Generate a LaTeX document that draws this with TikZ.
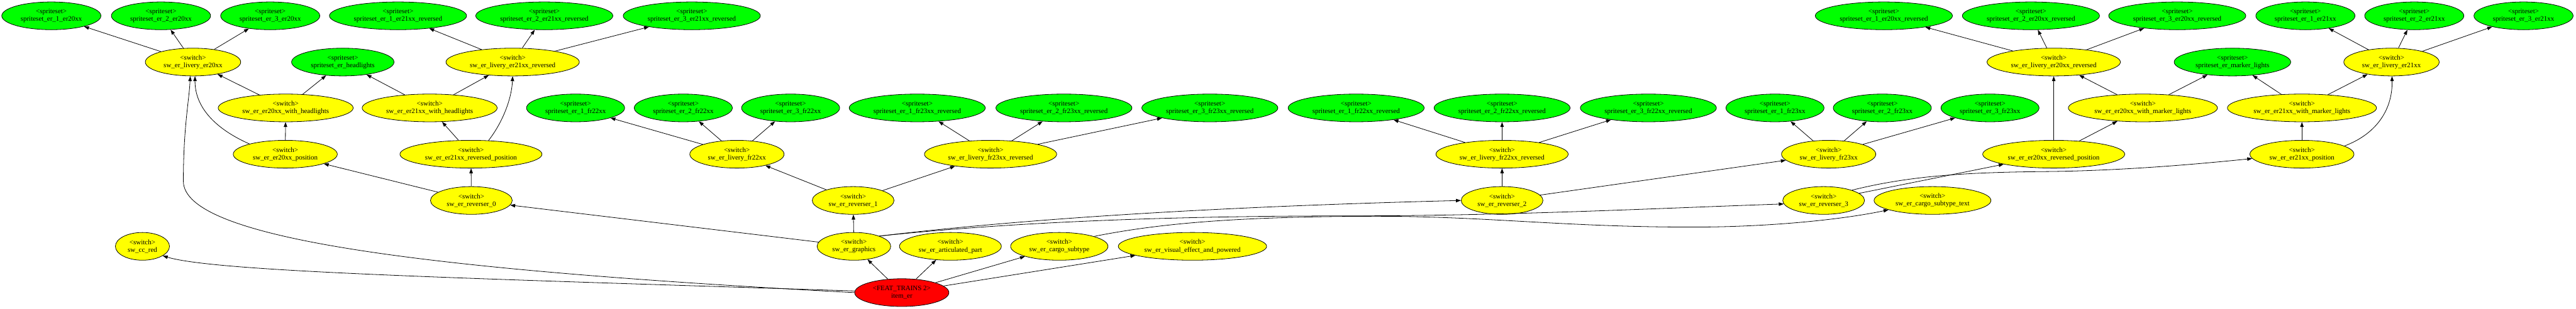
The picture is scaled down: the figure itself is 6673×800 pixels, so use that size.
\documentclass[tikz,border=0pt]{standalone}
\usepackage{fontspec}
\setmainfont{Liberation Serif}
\usetikzlibrary{shapes.geometric,arrows.meta}
\definecolor{gvgreen}{RGB}{0,255,0}
\definecolor{gvyellow}{RGB}{255,255,0}
\definecolor{gvred}{RGB}{255,0,0}
\newcommand\gvfont{\fontsize{17.9}{20}\selectfont}
\tikzset{
  gv/.style={ellipse, draw=black, line width=1.3pt, inner xsep=11.3pt, inner ysep=0pt,
    minimum height=72pt, align=center, font=\gvfont},
  sw/.style={gv, fill=gvyellow},
  ss/.style={gv, fill=gvgreen},
  feat/.style={gv, fill=gvred},
  edge/.style={-{Triangle[length=12.8pt,width=9pt]}, line width=1.3pt},
}
\begin{document}
\begin{tikzpicture}[x=1pt,y=-1pt]
\fill[white] (0,0) rectangle (6673,800);
\useasboundingbox (0,0) rectangle (6673,800);
% row 1
\node[ss] (s1er20) at (133,41) {<spriteset>\\spriteset\_er\_1\_er20xx};
\node[ss] (s2er20) at (417,41) {<spriteset>\\spriteset\_er\_2\_er20xx};
\node[ss] (s3er20) at (700,41) {<spriteset>\\spriteset\_er\_3\_er20xx};
\node[ss] (s1er21r) at (1031,41) {<spriteset>\\spriteset\_er\_1\_er21xx\_reversed};
\node[ss] (s2er21r) at (1410,41) {<spriteset>\\spriteset\_er\_2\_er21xx\_reversed};
\node[ss] (s3er21r) at (1792,41) {<spriteset>\\spriteset\_er\_3\_er21xx\_reversed};
\node[ss] (s1er20r) at (4880,41) {<spriteset>\\spriteset\_er\_1\_er20xx\_reversed};
\node[ss] (s2er20r) at (5261,41) {<spriteset>\\spriteset\_er\_2\_er20xx\_reversed};
\node[ss] (s3er20r) at (5640,41) {<spriteset>\\spriteset\_er\_3\_er20xx\_reversed};
\node[ss] (s1er21) at (5972,41) {<spriteset>\\spriteset\_er\_1\_er21xx};
\node[ss] (s2er21) at (6254,41) {<spriteset>\\spriteset\_er\_2\_er21xx};
\node[ss] (s3er21) at (6537,41) {<spriteset>\\spriteset\_er\_3\_er21xx};
% row 2
\node[sw] (lver20) at (500,161) {<switch>\\sw\_er\_livery\_er20xx};
\node[ss] (shead) at (888,161) {<spriteset>\\spriteset\_er\_headlights};
\node[sw] (lver21r) at (1328,161) {<switch>\\sw\_er\_livery\_er21xx\_reversed};
\node[sw] (lver20r) at (5320,161) {<switch>\\sw\_er\_livery\_er20xx\_reversed};
\node[ss] (smark) at (5783,161) {<spriteset>\\spriteset\_er\_marker\_lights};
\node[sw] (lver21) at (6195,161) {<switch>\\sw\_er\_livery\_er21xx};
% row 3
\node[sw] (e20wh) at (740,280) {<switch>\\sw\_er\_er20xx\_with\_headlights};
\node[sw] (e21wh) at (1113,280) {<switch>\\sw\_er\_er21xx\_with\_headlights};
\node[ss] (s1fr22) at (1491,280) {<spriteset>\\spriteset\_er\_1\_fr22xx};
\node[ss] (s2fr22) at (1770,280) {<spriteset>\\spriteset\_er\_2\_fr22xx};
\node[ss] (s3fr22) at (2048,280) {<spriteset>\\spriteset\_er\_3\_fr22xx};
\node[ss] (s1fr23r) at (2376,280) {<spriteset>\\spriteset\_er\_1\_fr23xx\_reversed};
\node[ss] (s2fr23r) at (2756,280) {<spriteset>\\spriteset\_er\_2\_fr23xx\_reversed};
\node[ss] (s3fr23r) at (3134,280) {<spriteset>\\spriteset\_er\_3\_fr23xx\_reversed};
\node[ss] (s1fr22r) at (3513,280) {<spriteset>\\spriteset\_er\_1\_fr22xx\_reversed};
\node[ss] (s2fr22r) at (3891,280) {<spriteset>\\spriteset\_er\_2\_fr22xx\_reversed};
\node[ss] (s3fr22r) at (4270,280) {<spriteset>\\spriteset\_er\_3\_fr22xx\_reversed};
\node[ss] (s1fr23) at (4598,280) {<spriteset>\\spriteset\_er\_1\_fr23xx};
\node[ss] (s2fr23) at (4876,280) {<spriteset>\\spriteset\_er\_2\_fr23xx};
\node[ss] (s3fr23) at (5155,280) {<spriteset>\\spriteset\_er\_3\_fr23xx};
\node[sw] (e20wm) at (5551,280) {<switch>\\sw\_er\_er20xx\_with\_marker\_lights};
\node[sw] (e21wm) at (5963,280) {<switch>\\sw\_er\_er21xx\_with\_marker\_lights};
% row 4
\node[sw] (e20pos) at (739,400) {<switch>\\sw\_er\_er20xx\_position};
\node[sw] (e21rpos) at (1220,400) {<switch>\\sw\_er\_er21xx\_reversed\_position};
\node[sw] (lvfr22) at (1909,400) {<switch>\\sw\_er\_livery\_fr22xx};
\node[sw] (lvfr23r) at (2566,400) {<switch>\\sw\_er\_livery\_fr23xx\_reversed};
\node[sw] (lvfr22r) at (3891,400) {<switch>\\sw\_er\_livery\_fr22xx\_reversed};
\node[sw] (lvfr23) at (4737,400) {<switch>\\sw\_er\_livery\_fr23xx};
\node[sw] (e20rpos) at (5320,400) {<switch>\\sw\_er\_er20xx\_reversed\_position};
\node[sw] (e21pos) at (5963,400) {<switch>\\sw\_er\_er21xx\_position};
% row 5
\node[sw] (rev0) at (1221,520) {<switch>\\sw\_er\_reverser\_0};
\node[sw] (rev1) at (2210,520) {<switch>\\sw\_er\_reverser\_1};
\node[sw] (rev2) at (3891,520) {<switch>\\sw\_er\_reverser\_2};
\node[sw] (rev3) at (4724,520) {<switch>\\sw\_er\_reverser\_3};
\node[sw] (cst) at (5006,520) {<switch>\\sw\_er\_cargo\_subtype\_text};
% row 6
\node[sw] (ccred) at (369,639) {<switch>\\sw\_cc\_red};
\node[sw] (graphics) at (2212,639) {<switch>\\sw\_er\_graphics};
\node[sw] (artic) at (2462,639) {<switch>\\sw\_er\_articulated\_part};
\node[sw] (cargo) at (2744,639) {<switch>\\sw\_er\_cargo\_subtype};
\node[sw] (visual) at (3089,639) {<switch>\\sw\_er\_visual\_effect\_and\_powered};
% row 7
\node[feat] (item) at (2336,759) {<FEAT\_TRAINS 2>\\item\_er};
% straight edges
\foreach \a/\b in {lver20/s1er20, lver20/s2er20, lver20/s3er20,
  lver21r/s1er21r, lver21r/s2er21r, lver21r/s3er21r,
  lver20r/s1er20r, lver20r/s2er20r, lver20r/s3er20r,
  lver21/s1er21, lver21/s2er21, lver21/s3er21,
  e20wh/lver20, e20wh/shead, e21wh/shead, e21wh/lver21r,
  e20pos/e20wh, e21rpos/e21wh,
  lvfr22/s1fr22, lvfr22/s2fr22, lvfr22/s3fr22,
  lvfr23r/s1fr23r, lvfr23r/s2fr23r, lvfr23r/s3fr23r,
  lvfr22r/s1fr22r, lvfr22r/s2fr22r, lvfr22r/s3fr22r,
  lvfr23/s1fr23, lvfr23/s2fr23, lvfr23/s3fr23,
  e20wm/lver20r, e20wm/smark, e21wm/smark, e21wm/lver21,
  e20rpos/lver20r, e20rpos/e20wm, e21pos/e21wm,
  rev0/e20pos, rev0/e21rpos, rev1/lvfr22, rev1/lvfr23r,
  rev2/lvfr22r, rev2/lvfr23, rev3/e20rpos,
  graphics/rev0, graphics/rev1,
  item/graphics, item/artic, item/cargo, item/visual}
  \draw[edge] (\a) -- (\b);
% curved edges
\draw[edge] (e20pos.164) .. controls (560,335) and (505,280) .. (lver20.-82);
\draw[edge] (e21rpos.38) .. controls (1300,320) and (1325,260) .. (lver21r.south);
\draw[edge] (e21pos.11) .. controls (6150,350) and (6198,290) .. (lver21.-88);
\draw[edge] (rev3.20) .. controls (4950,455) and (5100,447) .. (5300,445)
  .. controls (5500,443) and (5700,425) .. (e21pos.185);
\draw[edge] (graphics.22) .. controls (2550,580) and (3000,540) .. (rev2.west);
\draw[edge] (graphics.22) .. controls (2600,578) and (3000,560) .. (3500,560)
  .. controls (3900,560) and (4300,540) .. (rev3.185);
\draw[edge] (cargo.16) .. controls (3000,580) and (3200,562) .. (3550,561)
  .. controls (3850,560) and (4050,590) .. (4400,589)
  .. controls (4600,588) and (4780,568) .. (cst.192);
\draw[edge] (item.180) .. controls (1100,700) and (475,620) .. (475,470)
  .. controls (475,330) and (490,260) .. (lver20.-101);
\draw[edge] (item.178) .. controls (1200,722) and (560,705) .. (ccred.-25);
\end{tikzpicture}
\end{document}
